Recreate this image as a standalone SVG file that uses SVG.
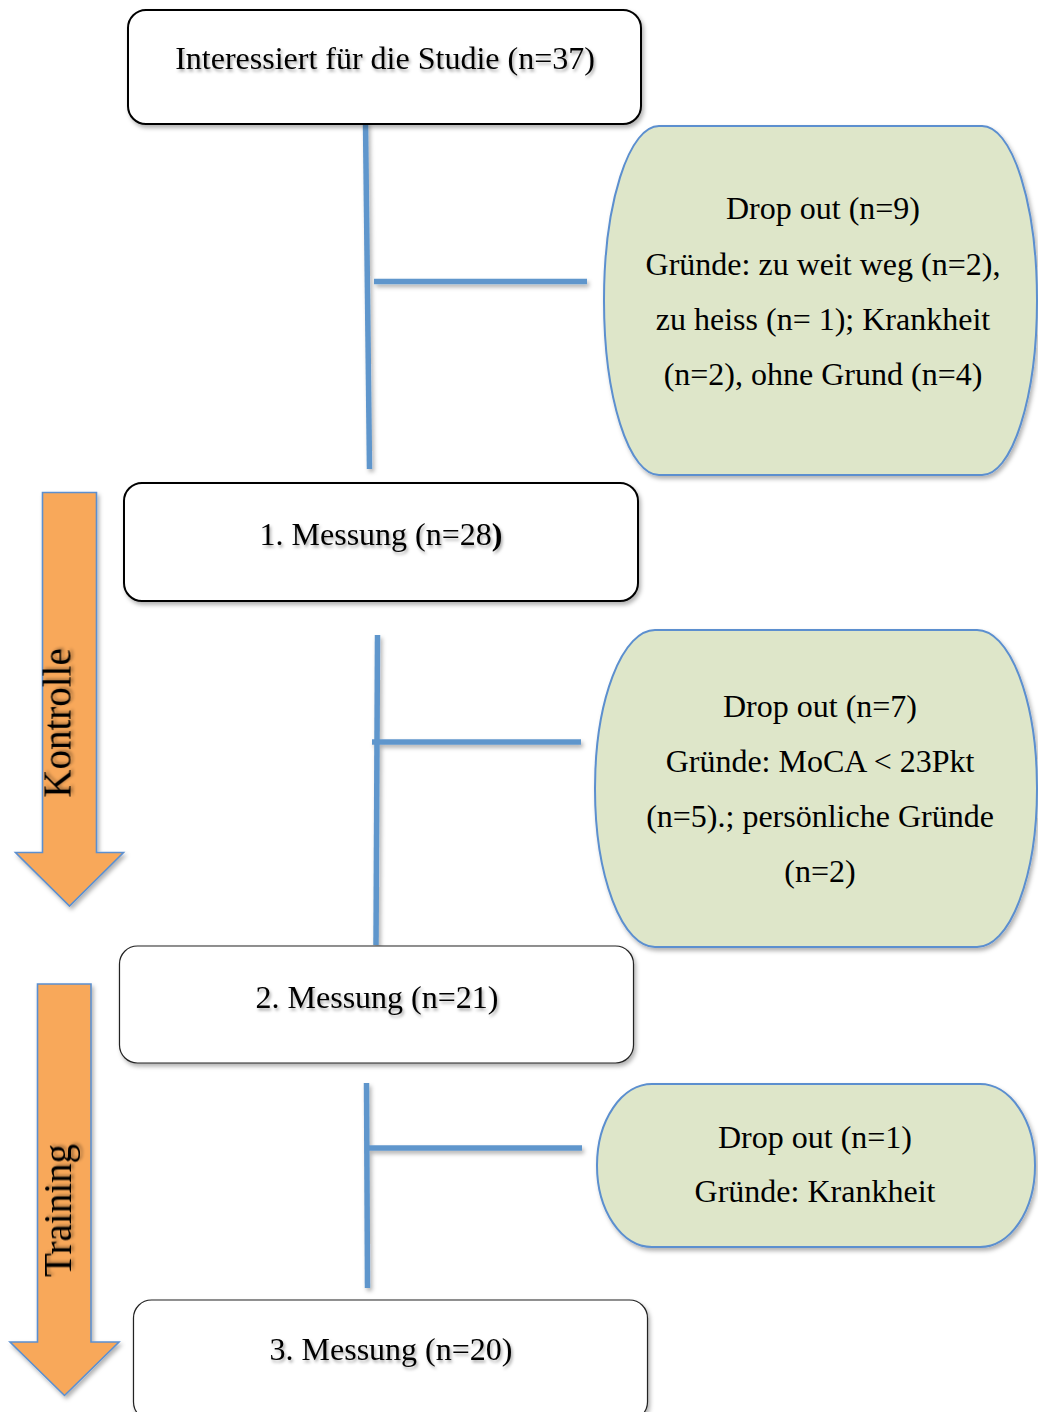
<svg xmlns="http://www.w3.org/2000/svg" width="1038" height="1412" viewBox="0 0 1038 1412">
<defs>
<filter id="sh" x="-10%" y="-10%" width="130%" height="130%">
<feDropShadow dx="2" dy="3" stdDeviation="2.2" flood-color="#000" flood-opacity="0.3"/>
</filter>
<filter id="lsh" filterUnits="userSpaceOnUse" x="0" y="0" width="1038" height="1412">
<feDropShadow dx="2" dy="3" stdDeviation="2" flood-color="#000" flood-opacity="0.3"/>
</filter>
<filter id="tsh" x="-10%" y="-30%" width="130%" height="170%">
<feDropShadow dx="1.5" dy="2.5" stdDeviation="1.8" flood-color="#000" flood-opacity="0.35"/>
</filter>
<style>
.box{fill:#fff;stroke:#000;stroke-width:2;filter:url(#sh)}
.box2{fill:#fff;stroke:#222;stroke-width:1.2;filter:url(#sh)}
.drop{fill:#dee6c9;stroke:#5b8fcf;stroke-width:2;filter:url(#sh)}
.arrow{fill:#f8a85a;stroke:#5b8fcf;stroke-width:1.6;filter:url(#sh)}
.t{font-family:"Liberation Serif","Times New Roman",serif;font-size:32px;fill:#000;text-anchor:middle}
.ts{filter:url(#tsh)}
.big{font-family:"Liberation Serif","Times New Roman",serif;font-size:39px;fill:#000;text-anchor:middle}
.ln{stroke:#5f96cc;stroke-width:5.5;fill:none}
</style>
</defs>
<rect width="1038" height="1412" fill="#fff"/>

<g id="connectors" filter="url(#lsh)">
<line class="ln" x1="365.5" y1="122" x2="369.5" y2="469"/>
<line class="ln" x1="374" y1="281.5" x2="587" y2="281.5"/>
<line class="ln" x1="377.5" y1="635" x2="376" y2="945"/>
<line class="ln" x1="372" y1="742" x2="581" y2="742"/>
<line class="ln" x1="366.5" y1="1083" x2="367.5" y2="1288"/>
<line class="ln" x1="367" y1="1148" x2="582" y2="1148"/>
</g>

<g id="arrow-kontrolle">
<path class="arrow" d="M42.5 492.5 H96.5 V852.5 H123.5 L69.5 906 L15.5 852.5 H42.5 Z"/>
<text class="big ts" transform="translate(70.5,723) rotate(-90)">Kontrolle</text>
</g>

<g id="arrow-training">
<path class="arrow" d="M37.5 984 H91 V1342 H119 L64.5 1395.5 L10 1342 H37.5 Z"/>
<text class="big ts" transform="translate(71,1210.5) rotate(-90)">Training</text>
</g>

<g id="n-interessiert">
<rect class="box" x="128" y="10" width="513" height="114" rx="18"/>
<text class="t ts" x="385" y="69">Interessiert für die Studie (n=37)</text>
</g>

<g id="n-dropout9">
<path class="drop" d="M659 126 H982 A55 174.5 0 0 1 982 475 H659 A55 174.5 0 0 1 659 126 Z"/>
<text class="t" x="823" y="219">Drop out (n=9)</text>
<text class="t" x="823" y="275">Gründe: zu weit weg (n=2),</text>
<text class="t" x="823" y="330">zu heiss (n= 1); Krankheit</text>
<text class="t" x="823" y="385">(n=2), ohne Grund (n=4)</text>
</g>

<g id="n-messung1">
<rect class="box" x="124" y="483" width="514" height="118" rx="18"/>
<text class="t ts" x="381" y="545">1. Messung (n=28<tspan font-weight="bold">)</tspan></text>
</g>

<g id="n-dropout7">
<path class="drop" d="M655 630 H977 A60 158.5 0 0 1 977 947 H655 A60 158.5 0 0 1 655 630 Z"/>
<text class="t" x="820" y="717">Drop out (n=7)</text>
<text class="t" x="820" y="772">Gründe: MoCA &lt; 23Pkt</text>
<text class="t" x="820" y="827">(n=5).; persönliche Gründe</text>
<text class="t" x="820" y="882">(n=2)</text>
</g>

<g id="n-messung2">
<rect class="box2" x="119.5" y="946" width="514" height="117" rx="18"/>
<text class="t ts" x="377" y="1008">2. Messung (n=21)</text>
</g>

<g id="n-dropout1">
<path class="drop" d="M652 1084 H980 A55 81.5 0 0 1 980 1247 H652 A55 81.5 0 0 1 652 1084 Z"/>
<text class="t" x="815" y="1148">Drop out (n=1)</text>
<text class="t" x="815" y="1202">Gründe: Krankheit</text>
</g>

<g id="n-messung3">
<rect class="box2" x="133.5" y="1300" width="514" height="120" rx="18"/>
<text class="t ts" x="391" y="1360">3. Messung (n=20)</text>
</g>
</svg>
